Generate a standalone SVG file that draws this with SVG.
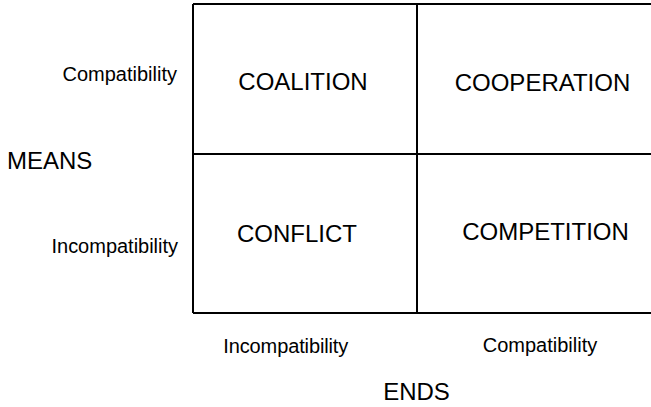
<svg xmlns="http://www.w3.org/2000/svg" width="651" height="407" viewBox="0 0 651 407">
<style>
text{font-family:"Liberation Sans",Arial,sans-serif;fill:#000}
.cell{font-size:24px;text-anchor:middle}
.axis{font-size:24px}
.lbl{font-size:20px}
.grid{stroke:#000;stroke-width:2;fill:none}
</style>
<rect width="651" height="407" fill="#fff"/>
<g id="connectors">
<path class="grid" d="M193 4H652M193 154H652M193 313H652M193 4V313M417 4V313"/>
</g>
<g id="coalition"><text class="cell" x="303" y="90">COALITION</text></g>
<g id="cooperation"><text class="cell" x="542.5" y="90.5">COOPERATION</text></g>
<g id="conflict"><text class="cell" x="297" y="241.5">CONFLICT</text></g>
<g id="competition"><text class="cell" x="545.5" y="239.5">COMPETITION</text></g>
<g id="means"><text class="axis" x="7" y="169">MEANS</text></g>
<g id="means-compat"><text class="lbl" x="177" y="80.5" text-anchor="end">Compatibility</text></g>
<g id="means-incompat"><text class="lbl" x="178" y="253" text-anchor="end" textLength="126.5">Incompatibility</text></g>
<g id="ends"><text class="axis" x="416.5" y="400" text-anchor="middle">ENDS</text></g>
<g id="ends-incompat"><text class="lbl" x="285.8" y="353" text-anchor="middle" textLength="125">Incompatibility</text></g>
<g id="ends-compat"><text class="lbl" x="540" y="351.5" text-anchor="middle">Compatibility</text></g>
</svg>
